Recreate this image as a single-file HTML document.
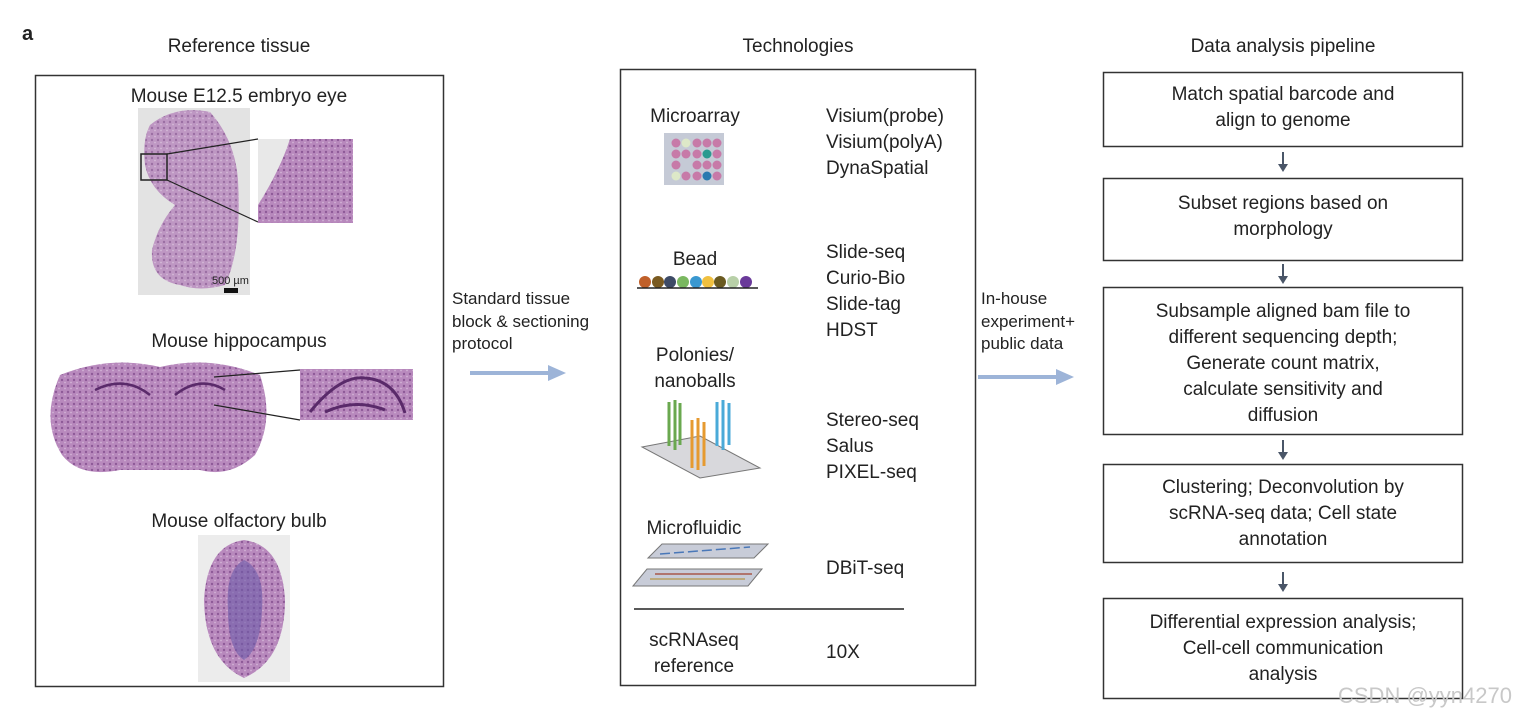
<!DOCTYPE html>
<html><head><meta charset="utf-8"><style>
body{margin:0;background:#fff;}
svg{display:block;font-family:"Liberation Sans",sans-serif;}
text{fill:#222;font-size:19px;}
</style></head><body>
<svg width="1534" height="724" viewBox="0 0 1534 724" xmlns="http://www.w3.org/2000/svg">
<defs>
<pattern id="tis" width="6" height="6" patternUnits="userSpaceOnUse"><rect width="6" height="6" fill="#b889bd"/><circle cx="2" cy="2" r="1.2" fill="#8e5a98"/><circle cx="5" cy="4.5" r="0.9" fill="#d2b3d6"/></pattern>
</defs>
<text x="22" y="40" style="font-weight:bold;font-size:20px">a</text>
<text x="239" y="52" text-anchor="middle">Reference tissue</text>
<text x="798" y="52" text-anchor="middle">Technologies</text>
<text x="1283" y="52" text-anchor="middle">Data analysis pipeline</text>

<!-- left box -->
<rect x="35.5" y="75.5" width="408" height="611" fill="none" stroke="#333" stroke-width="1.5"/>
<text x="239" y="102" text-anchor="middle">Mouse E12.5 embryo eye</text>
<rect x="138" y="108" width="112" height="187" fill="#e3e3e3"/>
<path d="M150,125 Q175,105 210,112 Q235,140 238,180 Q242,250 225,285 Q200,292 180,285 Q150,280 152,250 Q158,225 175,205 Q150,190 145,165 Q142,140 150,125 Z" fill="url(#tis)" opacity="0.85"/>
<rect x="141" y="154" width="26" height="26" fill="none" stroke="#222" stroke-width="1.5"/>
<line x1="167" y1="154" x2="258" y2="139" stroke="#222" stroke-width="1.2"/>
<line x1="167" y1="180" x2="258" y2="222" stroke="#222" stroke-width="1.2"/>
<rect x="258" y="139" width="95" height="84" fill="url(#tis)"/>
<path d="M258,139 L290,139 Q280,170 258,205 Z" fill="#e8e8e8"/>
<text x="212" y="284" style="font-size:11px">500 µm</text>
<rect x="224" y="288" width="14" height="5" fill="#111"/>

<text x="239" y="347" text-anchor="middle">Mouse hippocampus</text>
<path d="M60,375 Q110,355 160,367 Q210,355 260,375 Q275,420 255,455 Q230,478 200,470 L120,470 Q80,478 62,455 Q40,420 60,375 Z" fill="url(#tis)"/>
<path d="M95,390 Q125,375 150,395 M175,395 Q200,375 225,390" fill="none" stroke="#5a2a6a" stroke-width="2.5"/>
<line x1="214" y1="377" x2="300" y2="370" stroke="#222" stroke-width="1.2"/>
<line x1="214" y1="405" x2="300" y2="420" stroke="#222" stroke-width="1.2"/>
<rect x="300" y="369" width="113" height="51" fill="url(#tis)"/>
<path d="M310,412 Q340,375 365,378 Q395,380 405,413 M325,412 Q355,398 385,410" fill="none" stroke="#5a2a6a" stroke-width="3"/>

<text x="239" y="527" text-anchor="middle">Mouse olfactory bulb</text>
<rect x="198" y="535" width="92" height="147" fill="#ececec"/>
<path d="M244,540 Q282,545 285,600 Q285,660 244,678 Q205,660 204,600 Q207,545 244,540 Z" fill="url(#tis)"/>
<path d="M244,560 Q265,570 262,610 Q260,650 244,660 Q228,650 228,610 Q225,570 244,560 Z" fill="#6b5aa8" opacity="0.6"/>

<!-- blue arrows -->
<text x="452" y="304" style="font-size:17px">Standard tissue</text>
<text x="452" y="327" style="font-size:17px">block &amp; sectioning</text>
<text x="452" y="349" style="font-size:17px">protocol</text>
<line x1="470" y1="373" x2="552" y2="373" stroke="#9db4d8" stroke-width="4"/>
<path d="M548,365 L566,373 L548,381 z" fill="#9db4d8"/>
<text x="981" y="304" style="font-size:17px">In-house</text>
<text x="981" y="327" style="font-size:17px">experiment+</text>
<text x="981" y="349" style="font-size:17px">public data</text>
<line x1="978" y1="377" x2="1060" y2="377" stroke="#9db4d8" stroke-width="4"/>
<path d="M1056,369 L1074,377 L1056,385 z" fill="#9db4d8"/>

<!-- middle box -->
<rect x="620.5" y="69.5" width="355" height="616" fill="none" stroke="#333" stroke-width="1.5"/>
<text x="695" y="122" text-anchor="middle">Microarray</text>
<rect x="664" y="133" width="60" height="52" fill="#c5cad6"/>
<g fill="#c77aa8">
<circle cx="676" cy="143" r="4.5"/><circle cx="686" cy="143" r="4.5" fill="#dde8c8"/><circle cx="697" cy="143" r="4.5"/><circle cx="707" cy="143" r="4.5"/><circle cx="717" cy="143" r="4.5"/>
<circle cx="676" cy="154" r="4.5"/><circle cx="686" cy="154" r="4.5"/><circle cx="697" cy="154" r="4.5"/><circle cx="707" cy="154" r="4.5" fill="#2a9a90"/><circle cx="717" cy="154" r="4.5"/>
<circle cx="676" cy="165" r="4.5"/><circle cx="697" cy="165" r="4.5"/><circle cx="707" cy="165" r="4.5"/><circle cx="717" cy="165" r="4.5"/>
<circle cx="676" cy="176" r="4.5" fill="#dde8c8"/><circle cx="686" cy="176" r="4.5"/><circle cx="697" cy="176" r="4.5"/><circle cx="707" cy="176" r="4.5" fill="#2a7ab0"/><circle cx="717" cy="176" r="4.5"/>
</g>
<text x="826" y="122">Visium(probe)</text>
<text x="826" y="148">Visium(polyA)</text>
<text x="826" y="174">DynaSpatial</text>

<text x="695" y="265" text-anchor="middle">Bead</text>
<g>
<circle cx="645" cy="282" r="6" fill="#c0602a"/><circle cx="658" cy="282" r="6" fill="#7a5a20"/><circle cx="670" cy="282" r="6" fill="#3d4a66"/><circle cx="683" cy="282" r="6" fill="#7ab860"/><circle cx="696" cy="282" r="6" fill="#3a98d0"/><circle cx="708" cy="282" r="6" fill="#f0c040"/><circle cx="720" cy="282" r="6" fill="#6a5a20"/><circle cx="733" cy="282" r="6" fill="#b8d0a8"/><circle cx="746" cy="282" r="6" fill="#6a3a9a"/>
</g>
<line x1="637" y1="288" x2="758" y2="288" stroke="#222" stroke-width="1.5"/>
<text x="826" y="258">Slide-seq</text>
<text x="826" y="284">Curio-Bio</text>
<text x="826" y="310">Slide-tag</text>
<text x="826" y="336">HDST</text>

<text x="695" y="361" text-anchor="middle">Polonies/</text>
<text x="695" y="387" text-anchor="middle">nanoballs</text>
<path d="M642,447 L700,436 L760,468 L700,478 Z" fill="#d8d8dc" stroke="#777"/>
<g stroke-width="3">
<g stroke="#6aa84f"><line x1="669" y1="402" x2="669" y2="446"/><line x1="675" y1="400" x2="675" y2="450"/><line x1="680" y1="403" x2="680" y2="445"/></g>
<g stroke="#e69a30"><line x1="692" y1="420" x2="692" y2="468"/><line x1="698" y1="418" x2="698" y2="470"/><line x1="704" y1="422" x2="704" y2="466"/></g>
<g stroke="#4aaad8"><line x1="717" y1="402" x2="717" y2="446"/><line x1="723" y1="400" x2="723" y2="450"/><line x1="729" y1="403" x2="729" y2="445"/></g>
</g>
<text x="826" y="426">Stereo-seq</text>
<text x="826" y="452">Salus</text>
<text x="826" y="478">PIXEL-seq</text>

<text x="694" y="534" text-anchor="middle">Microfluidic</text>
<path d="M648,558 L662,544 L768,544 L754,558 Z" fill="#c8ccd8" stroke="#777"/>
<path d="M633,586 L647,569 L762,569 L748,586 Z" fill="#c8ccd8" stroke="#777"/>
<line x1="660" y1="554" x2="750" y2="547" stroke="#4a78b8" stroke-width="1.5" stroke-dasharray="10 4"/>
<line x1="655" y1="574" x2="752" y2="574" stroke="#a8584a" stroke-width="1.5"/>
<line x1="650" y1="579" x2="745" y2="579" stroke="#b8a060" stroke-width="1.5"/>
<text x="826" y="574">DBiT-seq</text>
<line x1="634" y1="609" x2="904" y2="609" stroke="#222" stroke-width="1.5"/>
<text x="694" y="646" text-anchor="middle">scRNAseq</text>
<text x="694" y="672" text-anchor="middle">reference</text>
<text x="826" y="658">10X</text>

<!-- right pipeline -->
<g fill="none" stroke="#333" stroke-width="1.5">
<rect x="1103.5" y="72.5" width="359" height="74"/>
<rect x="1103.5" y="178.5" width="359" height="82"/>
<rect x="1103.5" y="287.5" width="359" height="147"/>
<rect x="1103.5" y="464.5" width="359" height="98"/>
<rect x="1103.5" y="598.5" width="359" height="100"/>
</g>
<g stroke="#4a5668" stroke-width="2">
<line x1="1283" y1="152" x2="1283" y2="166"/>
<line x1="1283" y1="264" x2="1283" y2="278"/>
<line x1="1283" y1="440" x2="1283" y2="454"/>
<line x1="1283" y1="572" x2="1283" y2="586"/>
</g>
<g fill="#4a5668">
<path d="M1278,164 L1288,164 L1283,172 z"/>
<path d="M1278,276 L1288,276 L1283,284 z"/>
<path d="M1278,452 L1288,452 L1283,460 z"/>
<path d="M1278,584 L1288,584 L1283,592 z"/>
</g>
<g text-anchor="middle">
<text x="1283" y="100">Match spatial barcode and</text>
<text x="1283" y="126">align to genome</text>
<text x="1283" y="209">Subset regions based on</text>
<text x="1283" y="235">morphology</text>
<text x="1283" y="317">Subsample aligned bam file to</text>
<text x="1283" y="343">different sequencing depth;</text>
<text x="1283" y="369">Generate count matrix,</text>
<text x="1283" y="395">calculate sensitivity and</text>
<text x="1283" y="421">diffusion</text>
<text x="1283" y="493">Clustering; Deconvolution by</text>
<text x="1283" y="519">scRNA-seq data; Cell state</text>
<text x="1283" y="545">annotation</text>
<text x="1283" y="628">Differential expression analysis;</text>
<text x="1283" y="654">Cell-cell communication</text>
<text x="1283" y="680">analysis</text>
</g>
<text x="1338" y="703" style="fill:#c8c8c8;font-size:22px">CSDN @yyn4270</text>
</svg>
</body></html>
